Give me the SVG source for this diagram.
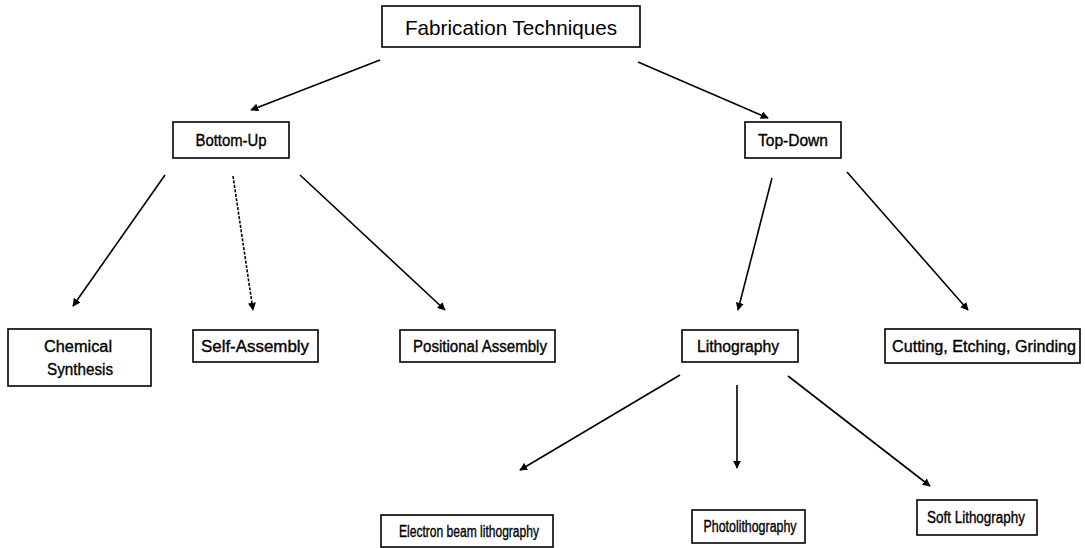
<svg xmlns="http://www.w3.org/2000/svg" width="1085" height="548" viewBox="0 0 1085 548">
<style>
.box{fill:#fff;stroke:#000;stroke-width:1.6}
.lbl{font-family:"Liberation Sans",sans-serif;font-size:16px;fill:#000;text-anchor:middle;stroke:#000;stroke-width:0.35}
.title{font-family:"Liberation Sans",sans-serif;font-size:21px;fill:#000;text-anchor:middle}
.edge{stroke:#000;stroke-width:1.6;fill:none;marker-end:url(#ah)}
</style>
<defs>
<marker id="ah" viewBox="0 0 10 10" refX="9" refY="5" markerWidth="8" markerHeight="8" markerUnits="userSpaceOnUse" orient="auto">
<path d="M0,0 L10,5 L0,10 z" fill="#000"/>
</marker>
</defs>
<rect width="1085" height="548" fill="#fff"/>
<g id="connectors">
<line class="edge" x1="380" y1="60" x2="251" y2="110"/>
<line class="edge" x1="638" y1="62" x2="768" y2="118"/>
<line class="edge" x1="165" y1="175" x2="73" y2="306"/>
<line class="edge" x1="233" y1="176" x2="253" y2="310" stroke-dasharray="3,1.5"/>
<line class="edge" x1="300" y1="175" x2="445" y2="310"/>
<line class="edge" x1="772" y1="178" x2="738" y2="310"/>
<line class="edge" x1="847" y1="172" x2="968" y2="310"/>
<line class="edge" x1="680" y1="375" x2="520" y2="470"/>
<line class="edge" x1="737" y1="385" x2="737" y2="468"/>
<line class="edge" x1="788" y1="376" x2="930" y2="486"/>
</g>
<g id="n-fab"><rect class="box" x="382" y="6" width="258" height="41"/><text class="title" x="511" y="35" textLength="212" lengthAdjust="spacingAndGlyphs">Fabrication Techniques</text></g>
<g id="n-bu"><rect class="box" x="173" y="122" width="116" height="36"/><text class="lbl" x="231" y="146" textLength="71" lengthAdjust="spacingAndGlyphs">Bottom-Up</text></g>
<g id="n-td"><rect class="box" x="745" y="122" width="96" height="36"/><text class="lbl" x="793" y="146" textLength="70" lengthAdjust="spacingAndGlyphs">Top-Down</text></g>
<g id="n-cs"><rect class="box" x="8" y="329" width="143" height="57"/><text class="lbl" x="78" y="352" textLength="68" lengthAdjust="spacingAndGlyphs">Chemical</text><text class="lbl" x="80" y="375" textLength="66" lengthAdjust="spacingAndGlyphs">Synthesis</text></g>
<g id="n-sa"><rect class="box" x="193" y="330" width="125" height="32"/><text class="lbl" x="255" y="352" textLength="108" lengthAdjust="spacingAndGlyphs">Self-Assembly</text></g>
<g id="n-pa"><rect class="box" x="400" y="330" width="155" height="32"/><text class="lbl" x="480" y="352" textLength="134" lengthAdjust="spacingAndGlyphs">Positional Assembly</text></g>
<g id="n-li"><rect class="box" x="682" y="330" width="116" height="32"/><text class="lbl" x="738" y="352" textLength="82" lengthAdjust="spacingAndGlyphs">Lithography</text></g>
<g id="n-ce"><rect class="box" x="885" y="329" width="195" height="34"/><text class="lbl" x="984" y="352" textLength="184" lengthAdjust="spacingAndGlyphs">Cutting, Etching, Grinding</text></g>
<g id="n-eb"><rect class="box" x="381" y="515" width="172" height="32"/><text class="lbl" x="469" y="537" textLength="140" lengthAdjust="spacingAndGlyphs">Electron beam lithography</text></g>
<g id="n-ph"><rect class="box" x="692" y="510" width="113" height="33"/><text class="lbl" x="750" y="532" textLength="93" lengthAdjust="spacingAndGlyphs">Photolithography</text></g>
<g id="n-sl"><rect class="box" x="917" y="500" width="120" height="35"/><text class="lbl" x="976" y="523" textLength="98" lengthAdjust="spacingAndGlyphs">Soft Lithography</text></g>
</svg>
